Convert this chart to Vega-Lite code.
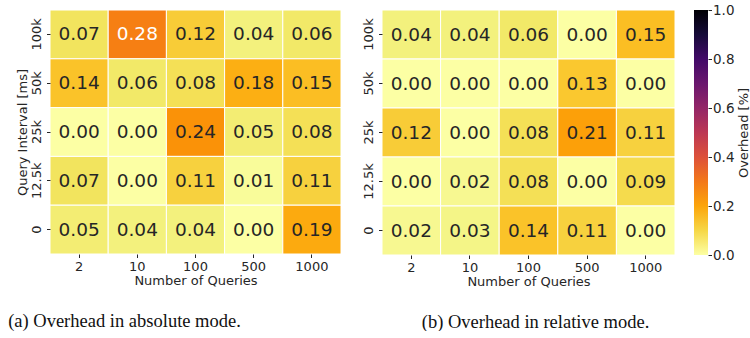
{
  "$schema": "https://vega.github.io/schema/vega-lite/v6.json",
  "padding": {"left": 8, "top": 3, "right": 0, "bottom": 0},
  "background": "white",
  "config": {
    "font": "DejaVu Sans",
    "view": {"stroke": null},
    "axis": {
      "domain": false,
      "ticks": true,
      "tickSize": 3.5,
      "tickWidth": 1,
      "tickColor": "#262626",
      "labelColor": "#262626",
      "labelFontSize": 13,
      "titleFontSize": 13,
      "titleFontWeight": "normal",
      "titleColor": "#262626",
      "labelPadding": 3,
      "titlePadding": 1,
      "grid": false
    }
  },
  "datasets": {
    "abs": [
      {"q": "2", "i": "100k", "v": 0.07}, {"q": "10", "i": "100k", "v": 0.28}, {"q": "100", "i": "100k", "v": 0.12}, {"q": "500", "i": "100k", "v": 0.04}, {"q": "1000", "i": "100k", "v": 0.06},
      {"q": "2", "i": "50k", "v": 0.14}, {"q": "10", "i": "50k", "v": 0.06}, {"q": "100", "i": "50k", "v": 0.08}, {"q": "500", "i": "50k", "v": 0.18}, {"q": "1000", "i": "50k", "v": 0.15},
      {"q": "2", "i": "25k", "v": 0.0}, {"q": "10", "i": "25k", "v": 0.0}, {"q": "100", "i": "25k", "v": 0.24}, {"q": "500", "i": "25k", "v": 0.05}, {"q": "1000", "i": "25k", "v": 0.08},
      {"q": "2", "i": "12.5k", "v": 0.07}, {"q": "10", "i": "12.5k", "v": 0.0}, {"q": "100", "i": "12.5k", "v": 0.11}, {"q": "500", "i": "12.5k", "v": 0.01}, {"q": "1000", "i": "12.5k", "v": 0.11},
      {"q": "2", "i": "0", "v": 0.05}, {"q": "10", "i": "0", "v": 0.04}, {"q": "100", "i": "0", "v": 0.04}, {"q": "500", "i": "0", "v": 0.0}, {"q": "1000", "i": "0", "v": 0.19}
    ],
    "rel": [
      {"q": "2", "i": "100k", "v": 0.04}, {"q": "10", "i": "100k", "v": 0.04}, {"q": "100", "i": "100k", "v": 0.06}, {"q": "500", "i": "100k", "v": 0.0}, {"q": "1000", "i": "100k", "v": 0.15},
      {"q": "2", "i": "50k", "v": 0.0}, {"q": "10", "i": "50k", "v": 0.0}, {"q": "100", "i": "50k", "v": 0.0}, {"q": "500", "i": "50k", "v": 0.13}, {"q": "1000", "i": "50k", "v": 0.0},
      {"q": "2", "i": "25k", "v": 0.12}, {"q": "10", "i": "25k", "v": 0.0}, {"q": "100", "i": "25k", "v": 0.08}, {"q": "500", "i": "25k", "v": 0.21}, {"q": "1000", "i": "25k", "v": 0.11},
      {"q": "2", "i": "12.5k", "v": 0.0}, {"q": "10", "i": "12.5k", "v": 0.02}, {"q": "100", "i": "12.5k", "v": 0.08}, {"q": "500", "i": "12.5k", "v": 0.0}, {"q": "1000", "i": "12.5k", "v": 0.09},
      {"q": "2", "i": "0", "v": 0.02}, {"q": "10", "i": "0", "v": 0.03}, {"q": "100", "i": "0", "v": 0.14}, {"q": "500", "i": "0", "v": 0.11}, {"q": "1000", "i": "0", "v": 0.0}
    ],
    "bar": [{"lo": 0, "hi": 1}]
  },
  "spacing": 20,
  "hconcat": [
    {
      "width": 291,
      "height": 244,
      "data": {"name": "abs"},
      "title": {"text": "(a) Overhead in absolute mode.", "orient": "bottom", "font": "Liberation Serif", "fontSize": 18.5, "fontWeight": "normal", "color": "#111111", "dx": -71, "offset": 24},
      "encoding": {
        "x": {"field": "q", "type": "ordinal", "sort": ["2", "10", "100", "500", "1000"], "scale": {"paddingInner": 0, "paddingOuter": 0}, "axis": {"title": "Number of Queries", "labelAngle": 0}},
        "y": {"field": "i", "type": "ordinal", "sort": ["100k", "50k", "25k", "12.5k", "0"], "scale": {"paddingInner": 0, "paddingOuter": 0}, "axis": {"title": "Query Interval [ms]", "labelAngle": -90}}
      },
      "layer": [
        {"mark": {"type": "rect", "stroke": "white", "strokeWidth": 1},
         "encoding": {"color": {"field": "v", "type": "quantitative", "scale": {"scheme": "inferno", "reverse": true, "domain": [0, 1]}, "legend": null}}},
        {"mark": {"type": "text", "fontSize": 18.5},
         "encoding": {"text": {"field": "v", "type": "quantitative", "format": ".2f"},
                      "color": {"condition": {"test": "datum.v > 0.25", "value": "white"}, "value": "#262626"}}}
      ]
    },
    {
      "spacing": 18,
      "hconcat": [
        {
          "width": 293,
          "height": 245,
          "data": {"name": "rel"},
          "title": {"text": "(b) Overhead in relative mode.", "orient": "bottom", "font": "Liberation Serif", "fontSize": 18.5, "fontWeight": "normal", "color": "#111111", "dx": 7, "offset": 24},
          "encoding": {
            "x": {"field": "q", "type": "ordinal", "sort": ["2", "10", "100", "500", "1000"], "scale": {"paddingInner": 0, "paddingOuter": 0}, "axis": {"title": "Number of Queries", "labelAngle": 0}},
            "y": {"field": "i", "type": "ordinal", "sort": ["100k", "50k", "25k", "12.5k", "0"], "scale": {"paddingInner": 0, "paddingOuter": 0}, "axis": {"title": null, "labelAngle": -90}}
          },
          "layer": [
            {"mark": {"type": "rect", "stroke": "white", "strokeWidth": 1},
             "encoding": {"color": {"field": "v", "type": "quantitative", "scale": {"scheme": "inferno", "reverse": true, "domain": [0, 1]}, "legend": null}}},
            {"mark": {"type": "text", "fontSize": 18.5},
             "encoding": {"text": {"field": "v", "type": "quantitative", "format": ".2f"},
                          "color": {"condition": {"test": "datum.v > 0.25", "value": "white"}, "value": "#262626"}}}
          ]
        },
        {
          "width": 14,
          "height": 245,
          "data": {"name": "bar"},
          "mark": {"type": "rect", "color": {"gradient": "linear", "x1": 0, "y1": 0, "x2": 0, "y2": 1, "stops": [
            {"offset": 0.0, "color": "#000004"},
            {"offset": 0.1, "color": "#160b39"},
            {"offset": 0.2, "color": "#420a68"},
            {"offset": 0.3, "color": "#6a176e"},
            {"offset": 0.4, "color": "#932667"},
            {"offset": 0.5, "color": "#bc3754"},
            {"offset": 0.6, "color": "#dd513a"},
            {"offset": 0.7, "color": "#f37819"},
            {"offset": 0.8, "color": "#fca50a"},
            {"offset": 0.9, "color": "#f6d746"},
            {"offset": 1.0, "color": "#fcffa4"}
          ]}},
          "encoding": {
            "y": {"field": "lo", "type": "quantitative", "scale": {"domain": [0, 1], "nice": false}, "axis": {"orient": "right", "title": "Overhead [%]", "titleAngle": -90, "titleBaseline": "top", "values": [0, 0.2, 0.4, 0.6, 0.8, 1.0], "format": ".1f", "labelFontSize": 13.5, "labelPadding": 1, "titlePadding": 4}},
            "y2": {"field": "hi"}
          }
        }
      ]
    }
  ]
}
